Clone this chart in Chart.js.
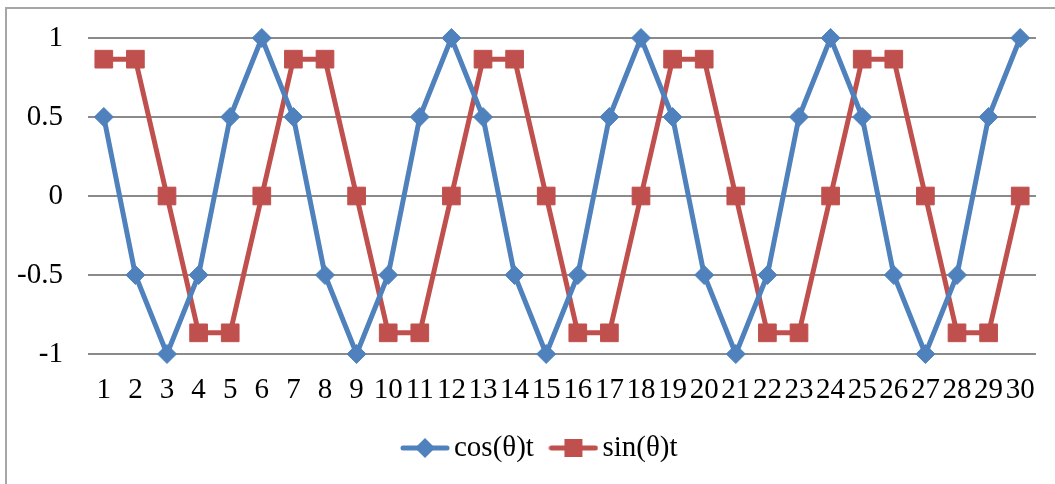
<!DOCTYPE html>
<html>
<head>
<meta charset="utf-8">
<script src="https://cdn.jsdelivr.net/npm/chart.js@4.4.1/dist/chart.umd.min.js"></script>
<style>
body { margin: 0; background: #fff; }
#wrap { position: relative; width: 1055px; height: 484px; overflow: hidden; }
#frame { position: absolute; left: 5px; top: 7px; width: 1100px; height: 600px; border: 2px solid #a6a6a6; }
canvas { position: absolute; left: 0; top: 0; }
</style>
</head>
<body>
<div id="wrap">
  <div id="frame"></div>
  <canvas id="waveChart" width="1055" height="484"></canvas>
</div>
<script>
// data
const labels = ['1', '2', '3', '4', '5', '6', '7', '8', '9', '10',
    '11', '12', '13', '14', '15', '16', '17', '18', '19', '20',
    '21', '22', '23', '24', '25', '26', '27', '28', '29', '30'];
const cosValues = [0.5, -0.5, -1, -0.5, 0.5, 1, 0.5, -0.5, -1, -0.5,
    0.5, 1, 0.5, -0.5, -1, -0.5, 0.5, 1, 0.5, -0.5,
    -1, -0.5, 0.5, 1, 0.5, -0.5, -1, -0.5, 0.5, 1];
const sinValues = [0.866, 0.866, 0, -0.866, -0.866, 0, 0.866, 0.866, 0, -0.866,
    -0.866, 0, 0.866, 0.866, 0, -0.866, -0.866, 0, 0.866, 0.866,
    0, -0.866, -0.866, 0, 0.866, 0.866, 0, -0.866, -0.866, 0];
const seriesNames = ['cos(θ)t', 'sin(θ)t'];
const yTicks = [-1, -0.5, 0, 0.5, 1];

const blue = '#4F81BD';
const red = '#C0504D';
const fontFamily = '"Liberation Serif", "Times New Roman", serif';
const fontSize = 29;

// legend icon: short line with the marker on top
function makeIcon(color, shape) {
    const c = document.createElement('canvas');
    c.width = 50; c.height = 22;
    const g = c.getContext('2d');
    g.strokeStyle = color; g.lineWidth = 5; g.lineCap = 'round';
    g.beginPath(); g.moveTo(3, 11); g.lineTo(47, 11); g.stroke();
    g.fillStyle = color;
    g.beginPath();
    if (shape == 'diamond') {
        g.moveTo(25, 1); g.lineTo(35, 11); g.lineTo(25, 21); g.lineTo(15, 11);
    } else {
        g.rect(16, 2, 18, 18);
    }
    g.fill();
    return c;
}
const icons = [makeIcon(blue, 'diamond'), makeIcon(red, 'square')];

// legend in the original sits a bit right of centre
const legendNudge = {
    id: 'legendNudge',
    afterLayout: function (chart) {
        chart.legend.left += 26;
        chart.legend.right += 26;
    }
};

var ctx = document.getElementById('waveChart').getContext('2d');
var waveChart = new Chart(ctx, {
    type: 'line',
    data: {
        labels: labels,
        datasets: [{
            label: seriesNames[0],
            data: cosValues,
            borderColor: blue,
            backgroundColor: blue,
            borderWidth: 5,
            pointStyle: 'rectRot',
            pointRadius: 9.5,
            pointBorderWidth: 1,
            pointBackgroundColor: blue,
            tension: 0,
            clip: false
        }, {
            label: seriesNames[1],
            data: sinValues,
            borderColor: red,
            backgroundColor: red,
            borderWidth: 5,
            pointStyle: 'rect',
            pointRadius: 12.5,
            pointBorderWidth: 1,
            pointBackgroundColor: red,
            tension: 0,
            clip: false
        }]
    },
    plugins: [legendNudge],
    options: {
        responsive: false,
        animation: false,
        layout: { padding: { left: 0, right: 19, top: 38, bottom: 11.5 } },
        plugins: {
            tooltip: { enabled: false },
            legend: {
                position: 'bottom',
                labels: {
                    usePointStyle: true,
                    pointStyleWidth: 29,
                    padding: 25,
                    color: '#000',
                    font: { family: fontFamily, size: fontSize },
                    generateLabels: function (chart) {
                        return chart.data.datasets.map(function (ds, i) {
                            return {
                                text: ds.label,
                                pointStyle: icons[i],
                                fillStyle: ds.borderColor,
                                strokeStyle: ds.borderColor,
                                lineWidth: 0,
                                fontColor: '#000',
                                hidden: false,
                                datasetIndex: i
                            };
                        });
                    }
                }
            }
        },
        scales: {
            x: {
                offset: true,
                grid: { display: false },
                border: { display: false },
                ticks: {
                    color: '#000',
                    font: { family: fontFamily, size: fontSize },
                    maxRotation: 0,
                    autoSkip: false,
                    padding: 11
                },
                afterFit: function (scale) { scale.height = 54.5; }
            },
            y: {
                min: -1,
                max: 1,
                afterBuildTicks: function (scale) {
                    scale.ticks = yTicks.map(function (v) { return { value: v }; });
                },
                grid: { color: '#8a8a8a', lineWidth: 2, drawTicks: false },
                border: { display: false },
                ticks: {
                    color: '#000',
                    font: { family: fontFamily, size: fontSize },
                    padding: 25,
                    callback: function (v) { return String(v); }
                },
                afterFit: function (scale) {
                    scale.width = 88;
                    scale.paddingTop = 0;
                    scale.paddingBottom = 0;
                }
            }
        }
    }
});
</script>
</body>
</html>
